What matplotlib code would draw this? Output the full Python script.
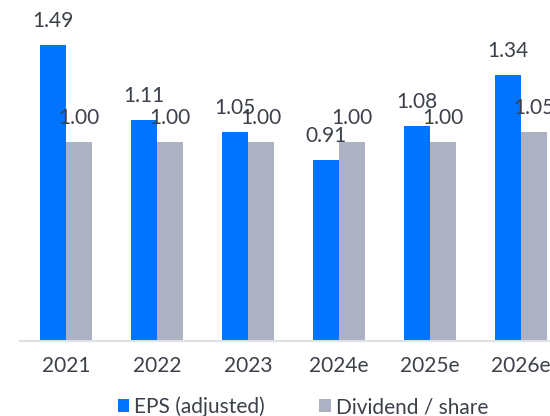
import matplotlib.pyplot as plt
import numpy as np

years = ["2021", "2022", "2023", "2024e", "2025e", "2026e"]
eps = [1.49, 1.11, 1.05, 0.91, 1.08, 1.34]
dividend = [1.00, 1.00, 1.00, 1.00, 1.00, 1.05]

blue = "#0073ff"
grey = "#adb2c3"
text_col = "#3b4049"

plt.rcParams['font.family'] = ['Lato', 'DejaVu Sans']

W, H = 550, 416
fig = plt.figure(figsize=(W / 100, H / 100), dpi=100)
ax = fig.add_axes([20 / W, 75 / H, 530 / W, 341 / H])

x = np.arange(len(years))
width = 26 / 91
ax.bar(x - width / 2, eps, width, color=blue, label="EPS (adjusted)")
ax.bar(x + width / 2, dividend, width, color=grey, label="Dividend / share")

# value labels sit a fixed distance above each bar
for i in range(len(years)):
    ax.annotate(f"{eps[i]:.2f}", (x[i] - width / 2, eps[i]), xytext=(0, 18),
                textcoords="offset pixels", ha="center", va="baseline",
                fontsize=15, color=text_col)
    ax.annotate(f"{dividend[i]:.2f}", (x[i] + width / 2, dividend[i]), xytext=(0, 18),
                textcoords="offset pixels", ha="center", va="baseline",
                fontsize=15, color=text_col)

ax.set_xlim((20 - 66) / 91, (550 - 66) / 91)
ax.set_ylim(0, 341 / 198.7)
ax.set_xticks(x)
ax.set_xticklabels(years, fontsize=15, color=text_col)
ax.tick_params(axis="x", length=0, pad=11)
ax.set_yticks([])
for side in ["top", "right", "left"]:
    ax.spines[side].set_visible(False)
ax.spines["bottom"].set_color("#dde1e6")
ax.spines["bottom"].set_linewidth(1.5)

fig.legend(loc="center", bbox_to_anchor=(0.551, 0.022), ncol=2, frameon=False,
           fontsize=15, handlelength=0.55, handleheight=0.55, handletextpad=0.25,
           columnspacing=2.6, labelcolor=text_col)

fig.savefig("out.png", dpi=100)
